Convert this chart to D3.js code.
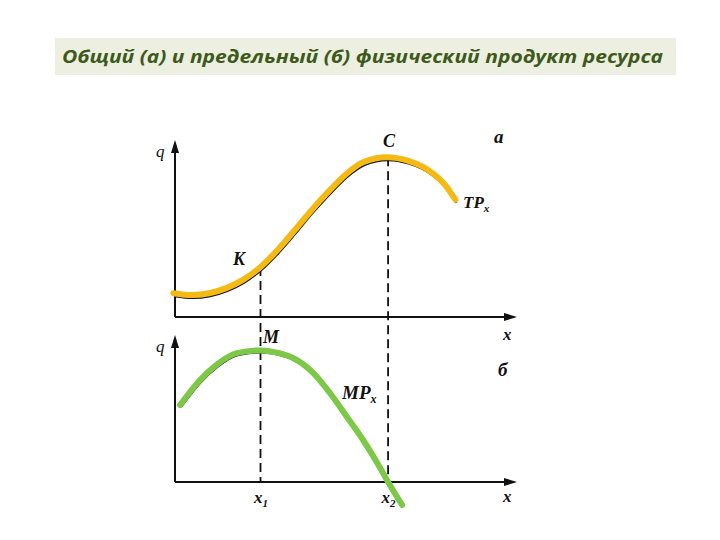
<!DOCTYPE html>
<html><head><meta charset="utf-8">
<script src="https://cdn.jsdelivr.net/npm/d3@7"></script>
<style>body{margin:0;background:#fff}</style>
</head><body>
<script>
const title = "Общий (а) и предельный (б) физический продукт ресурса";
// Total product TPx (upper panel): x, q
const tpX = [-0.5, 5, 10, 15, 20, 25, 30, 35, 40, 45, 50, 55, 62, 68, 74, 79, 82];
const tpQ = [14, 12.9, 14, 17, 22, 29.4, 39.4, 51, 63, 74, 84, 91, 94, 92, 86.5, 77.6, 69];
// Marginal product MPx (lower panel)
const mpX = [1.5, 7, 12.3, 18, 25, 30.5, 34.5, 40.4, 45.3, 50.3, 55, 60, 62.3, 66.4];
const mpQ = [55, 72, 84, 92, 94, 92, 88.6, 78, 63.6, 46.4, 30, 10, 0, -16.4];
const x1 = 25, x2 = 62.3;
const kQ = 29.4, cQ = 94, mQ = 94;
const xTickVals = [x1, x2];
const xTickLabels = ["x1", "x2"];

const W = 720, H = 540;
const svg = d3.select("body").append("svg").attr("width", W).attr("height", H);

// title box
svg.append("rect").attr("x", 55).attr("y", 38).attr("width", 621).attr("height", 37).attr("fill", "#edf0e0");
svg.append("text").attr("x", 62).attr("y", 63).text(title)
  .attr("font-family", "Open Sans, sans-serif").attr("font-style", "italic").attr("font-weight", "bold")
  .attr("font-size", 18.5).attr("fill", "#3d5a1c").attr("textLength", 601).attr("lengthAdjust", "spacingAndGlyphs");

const x = d3.scaleLinear().domain([0, 100]).range([175, 517]);
const yTop = d3.scaleLinear().domain([0, 100]).range([317, 147]);
const yBot = d3.scaleLinear().domain([0, 100]).range([482, 342]);

const serif = "Liberation Serif, DejaVu Serif, serif";
function lbl(tx, ty, s, size) {
  return svg.append("text").attr("x", tx).attr("y", ty).text(s)
    .attr("font-family", serif).attr("font-style", "italic").attr("font-weight", "bold")
    .attr("font-size", size || 17).attr("fill", "#111");
}

// axes
function drawAxes(y, topY) {
  const g = svg.append("g");
  const ax = d3.axisBottom(x).tickValues([]).tickSizeOuter(0);
  g.append("g").attr("transform", `translate(0,${y(0)})`).call(ax)
    .select(".domain").attr("stroke", "#111").attr("stroke-width", 2).attr("d", `M${x(0)},0H${x(100) - 8}`);
  const ay = d3.axisLeft(y).tickValues([]).tickSizeOuter(0);
  g.append("g").attr("transform", `translate(${x(0)},0)`).call(ay)
    .select(".domain").attr("stroke", "#111").attr("stroke-width", 2).attr("d", `M0,${y(0)}V${topY + 8}`);
  g.append("path").attr("d", `M${x(100)},${y(0)} l-13,-4 l0,8 z`).attr("fill", "#111");
  g.append("path").attr("d", `M${x(0)},${topY} l-4,13 l8,0 z`).attr("fill", "#111");
}
drawAxes(yTop, 140);
drawAxes(yBot, 335);

// dashed verticals
svg.append("line").attr("x1", x(x1)).attr("x2", x(x1)).attr("y1", yTop(kQ)).attr("y2", yBot(0))
  .attr("stroke", "#111").attr("stroke-width", 1.8).attr("stroke-dasharray", "9,5");
svg.append("line").attr("x1", x(x2)).attr("x2", x(x2)).attr("y1", yTop(cQ)).attr("y2", yBot(0))
  .attr("stroke", "#111").attr("stroke-width", 1.8).attr("stroke-dasharray", "9,5");

// curves
const tpData = tpX.map((d, i) => [d, tpQ[i]]);
const mpData = mpX.map((d, i) => [d, mpQ[i]]);
const lineTop = d3.line().x(d => x(d[0])).y(d => yTop(d[1])).curve(d3.curveMonotoneX);
const lineBot = d3.line().x(d => x(d[0])).y(d => yBot(d[1])).curve(d3.curveMonotoneX);

svg.append("path").attr("d", lineTop(tpData)).attr("fill", "none").attr("stroke", "#111")
  .attr("stroke-width", 2).attr("transform", "translate(1,3)");
svg.append("path").attr("d", lineBot(mpData)).attr("fill", "none").attr("stroke", "#111")
  .attr("stroke-width", 2).attr("transform", "translate(1,2)");

svg.append("path").attr("d", lineTop(tpData)).attr("fill", "none").attr("stroke", "#f4b912")
  .attr("stroke-width", 6).attr("stroke-linecap", "round");
svg.append("path").attr("d", lineBot(mpData)).attr("fill", "none").attr("stroke", "#7dc846")
  .attr("stroke-width", 6).attr("stroke-linecap", "round");

// labels
lbl(156, 157, "q", 17).attr("font-weight", "normal");
lbl(156, 352, "q", 17).attr("font-weight", "normal");
lbl(503, 340, "x", 17);
lbl(503, 502, "x", 17);
lbl(383, 147, "C", 18);
lbl(494, 143, "a", 19);
lbl(233, 265, "K", 18);
lbl(263, 343, "M", 18);
lbl(498, 376, "б", 19);
const tp = lbl(463, 208, "TP", 17);
tp.append("tspan").attr("font-size", 11).attr("dy", 4).text("x");
const mp = lbl(342, 399, "MP", 19);
mp.append("tspan").attr("font-size", 12).attr("dy", 4).text("x");

// bottom x tick labels via axis
const tickAxis = d3.axisBottom(x).tickValues(xTickVals).tickSize(0).tickFormat(() => "");
const tg = svg.append("g").attr("transform", `translate(0,${yBot(0)})`).call(tickAxis);
tg.select(".domain").remove();
tg.selectAll(".tick").each(function(d, i) {
  const t = d3.select(this).append("text").attr("y", 21).attr("x", 0).attr("text-anchor", "middle")
    .attr("font-family", serif).attr("font-style", "italic").attr("font-weight", "bold")
    .attr("font-size", 17).attr("fill", "#111").text(xTickLabels[i][0]);
  t.append("tspan").attr("font-size", 11).attr("dy", 4).text(xTickLabels[i].slice(1));
});
</script>
</body></html>
